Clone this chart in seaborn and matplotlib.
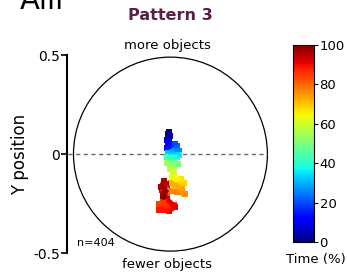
import numpy as np
import pandas as pd
import matplotlib
matplotlib.use("Agg")
import matplotlib.pyplot as plt
from matplotlib.patches import Circle
from matplotlib.cm import ScalarMappable
from matplotlib.colors import Normalize
from matplotlib.collections import LineCollection
import seaborn as sns

# trajectory (x, y position) and time (%)
x_pos = [-0.008, -0.013, -0.003, -0.008, -0.018, -0.008, -0.013, -0.003, -0.018,
         0.003, 0.013, 0.023, 0.033, 0.028, 0.043, 0.018,
         0.003, -0.013, 0.023, 0.043, 0.033, -0.003, -0.018, 0.013,
         -0.008, 0.023, 0.038, 0.003, -0.018, 0.018, -0.003, 0.013,
         0.018, 0.008, 0.028, 0.053, 0.068, 0.043, 0.023, 0.003, 0.058, 0.073, 0.033,
         -0.008, -0.028, -0.043, -0.018, -0.038, -0.058, -0.008, 0.018, -0.033, -0.058,
         -0.008, 0.023, -0.018,
         -0.028, -0.043, -0.023, -0.033, -0.048, -0.018, -0.038, -0.028]
y_pos = [0.111, 0.101, 0.091, 0.081, 0.071, 0.061, 0.051, 0.040, 0.030,
         0.045, 0.035, 0.051, 0.040, 0.025, 0.015, 0.020,
         0.010, 0.005, 0.000, -0.005, -0.015, -0.010, -0.015, -0.025,
         -0.035, -0.040, -0.051, -0.056, -0.045, -0.066, -0.076, -0.086,
         -0.101, -0.116, -0.131, -0.126, -0.146, -0.157, -0.167, -0.146, -0.177, -0.202, -0.192,
         -0.187, -0.162, -0.172, -0.217, -0.237, -0.253, -0.247, -0.258, -0.278, -0.283,
         -0.288, -0.268, -0.227,
         -0.202, -0.182, -0.152, -0.136, -0.167, -0.177, -0.212, -0.227]
time_pct = [0, 2, 4, 5, 7, 9, 11, 13, 14,
            16, 18, 20, 22, 24, 26, 28,
            30, 32, 34, 36, 38, 40, 42, 44,
            46, 48, 50, 52, 54, 56, 58, 60,
            62, 64, 66, 67, 69, 70, 72, 73, 74, 76, 77,
            78, 80, 81, 83, 84, 85, 86, 87, 88, 89,
            90, 91, 92,
            93, 94, 95, 96, 97, 98, 99, 100]

y_ticks = [0.5, 0, -0.5]
y_tick_labels = ["0.5", "0", "-0.5"]
cbar_ticks = [0, 20, 40, 60, 80, 100]
n_label = "n=404"

df = pd.DataFrame({"x": x_pos, "y": y_pos, "t": time_pct})
jet = matplotlib.colormaps["jet"]
norm = Normalize(0, 100)

sns.set_style("white", {"text.color": "black", "axes.labelcolor": "black",
                        "ytick.color": "black", "axes.edgecolor": "black"})
plt.rcParams["font.family"] = ["DejaVu Sans"]

fig = plt.figure(figsize=(3.47, 2.73), dpi=100)
ax = fig.add_axes([0.193, 0.073, 0.585, 0.725])

ax.add_patch(Circle((0, 0), 0.49, fill=False, ec="black", lw=0.9, clip_on=False))
ax.plot([-0.52, 0.49], [0, 0], ls="--", color="dimgray", lw=1.0, dashes=(3, 2.5))

# connect consecutive samples, coloured by time
pts = df[["x", "y"]].to_numpy()
segs = np.stack([pts[:-1], pts[1:]], axis=1)
lc = LineCollection(segs, cmap=jet, norm=norm, linewidths=3.5)
lc.set_array(df["t"].to_numpy()[:-1])
ax.add_collection(lc)

sns.scatterplot(data=df, x="x", y="y", hue="t", palette=jet, hue_norm=(0, 100),
                marker="s", s=22, linewidth=0, legend=False, ax=ax)

ax.set_xlim(-0.523, 0.503)
ax.set_ylim(-0.5, 0.5)
ax.set_xticks([])
ax.set_yticks(y_ticks)
ax.set_yticklabels(y_tick_labels, fontsize=10)
ax.tick_params(axis="y", direction="out", length=4, width=1.2, left=True, pad=1)
for s in ["top", "right", "bottom"]:
    ax.spines[s].set_visible(False)
ax.spines["left"].set_linewidth(1.5)
ax.spines["left"].set_bounds(-0.5, 0.5)
ax.set_xlabel("")
ax.set_ylabel("Y position", fontsize=12, labelpad=3)

ax.text(-0.015, 0.55, "more objects", ha="center", va="center", fontsize=9.5)
ax.text(-0.015, -0.56, "fewer objects", ha="center", va="center", fontsize=9.5)
ax.text(-0.47, -0.45, n_label, ha="left", va="center", fontsize=8)

fig.text(170 / 347, 1 - 15 / 273, "Pattern 3", ha="center", va="center",
         fontsize=11.5, fontweight="bold", color="#5a1f48")
fig.text(20 / 347, 1 - 9 / 273, "Aiii", ha="left", va="baseline", fontsize=21)

cax = fig.add_axes([293 / 347, 31 / 273, 21 / 347, 197 / 273])
sm = ScalarMappable(norm=norm, cmap=jet)
cb = fig.colorbar(sm, cax=cax, ticks=cbar_ticks)
cb.ax.tick_params(labelsize=9.5, length=3, pad=1, colors="black")
cb.outline.set_linewidth(0.8)
fig.text(316 / 347, 1 - 260 / 273, "Time (%)", ha="center", va="center", fontsize=9.5)

fig.savefig("out.png", dpi=100)
